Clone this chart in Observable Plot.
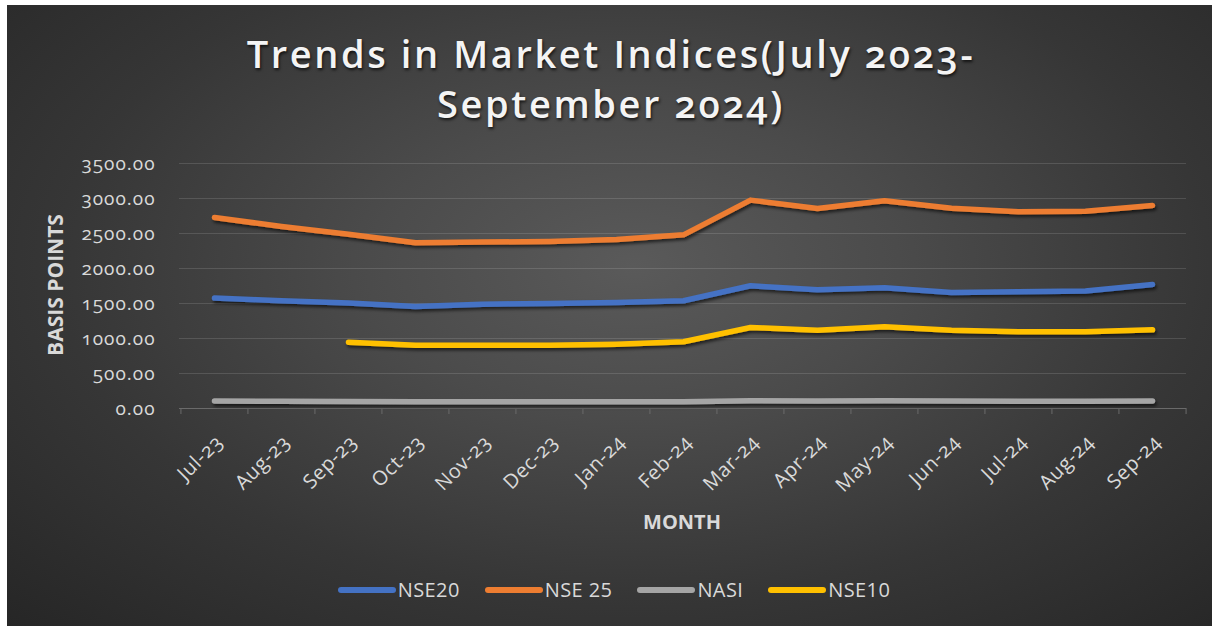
<!DOCTYPE html>
<html>
<head>
<meta charset="utf-8">
<script src="https://cdn.jsdelivr.net/npm/d3@7"></script>
<script src="https://cdn.jsdelivr.net/npm/@observablehq/plot@0.6"></script>
<style>
  html, body { margin: 0; padding: 0; background: #ffffff; }
  #wrap { position: relative; width: 1212px; height: 626px; overflow: hidden; font-family: "Open Sans", sans-serif; }
  #panel { position: absolute; left: 7px; top: 5px; width: 1205px; height: 621px;
    background: radial-gradient(ellipse farthest-corner at 52% 42%, #5a5a5a 0%, #4b4b4b 30%, #363636 65%, #262626 100%); }
  #title { position: absolute; left: 0; width: 1222px; top: 28px; text-align: center; color: #f4f4f4;
    font-size: 38px; font-weight: 600; line-height: 50px; letter-spacing: 2.6px;
    text-shadow: 1px 2px 3px rgba(0,0,0,0.7); font-variant-numeric: oldstyle-nums; }
  #chart { position: absolute; left: 0; top: 140px; }
  .axlabel { position: absolute; color: #d9d9d9; font-weight: 700; font-size: 20px; white-space: nowrap; }
  #ylab { left: 55px; top: 285px; transform: translate(-50%, -50%) rotate(-90deg); font-size: 21px; }
  #xlab { left: 682px; top: 521px; transform: translate(-50%, -50%); }
  #legend { position: absolute; left: 0; width: 1228px; top: 576px; display: flex; justify-content: center; align-items: center; gap: 25px; }
  .item { display: flex; align-items: center; gap: 2px; color: #d9d9d9; font-size: 20px; letter-spacing: 0.4px; }
  .sw { width: 58px; height: 6px; border-radius: 3px; }
</style>
</head>
<body>
<div id="wrap">
  <div id="panel"></div>
  <div id="title">Trends in Market Indices(July 2023-<br>September 2024)</div>
  <div id="chart"></div>
  <div class="axlabel" id="ylab">BASIS POINTS</div>
  <div class="axlabel" id="xlab">MONTH</div>
  <div id="legend"></div>
</div>
<script>
const months = ["Jul-23","Aug-23","Sep-23","Oct-23","Nov-23","Dec-23","Jan-24","Feb-24","Mar-24","Apr-24","May-24","Jun-24","Jul-24","Aug-24","Sep-24"];
const nse20 = [1577,1539,1506,1457,1491,1500,1514,1539,1753,1696,1724,1657,1667,1677,1771];
const nse25 = [2729,2600,2490,2367,2377,2386,2414,2481,2977,2857,2967,2862,2810,2819,2900];
const nasi  = [106,103,101,97,97,97,98,98,110,108,110,108,104,104,107];
const nse10 = [null,null,948,905,905,905,919,953,1157,1119,1167,1119,1095,1095,1124];
const seriesNames = ["NSE20","NSE 25","NASI","NSE10"];
const seriesColors = ["#4472C4","#ED7D31","#A5A5A5","#FFC000"];
const yTicks = [0,500,1000,1500,2000,2500,3000,3500];

const seriesValues = [nse20, nse25, nasi, nse10];
const rows = seriesNames.map((name, s) =>
  months.map((m, i) => ({series: name, month: m, value: seriesValues[s][i]})).filter(d => d.value != null));

const W = 1212, H = 400, mL = 179, mR = 26, mT = 23, mB = 132;
const step = (W - mL - mR) / months.length;
const axisColor = "#6a6a6a";

const chart = Plot.plot({
  width: W, height: H,
  marginLeft: mL, marginRight: mR, marginTop: mT, marginBottom: mB,
  style: {background: "transparent", color: "#d9d9d9", fontFamily: "Open Sans, sans-serif"},
  x: {type: "point", domain: months, padding: 0.5, label: null},
  y: {domain: [0, 3500], label: null},
  marks: [
    Plot.ruleY(yTicks.filter(d => d > 0), {stroke: "#ffffff", strokeOpacity: 0.13, strokeWidth: 1.2}),
    Plot.ruleY([0], {stroke: axisColor, strokeWidth: 1.2}),
    Plot.axisX({tickSize: 6, tickFormat: () => "", label: null, stroke: axisColor, strokeOpacity: 1, dx: -step / 2}),
    Plot.axisX({ticks: [months[months.length - 1]], tickSize: 6, tickFormat: () => "", label: null, stroke: axisColor, strokeOpacity: 1, dx: step / 2}),
    Plot.axisX({tickSize: 0, tickRotate: -45, tickPadding: 30, fontSize: 20, label: null, dx: 5, className: "xlabels"}),
    Plot.axisY({ticks: yTicks, tickSize: 0, tickPadding: 24, fontSize: 19, tickFormat: d => d.toFixed(2), label: null, className: "ylabels"}),
    ...rows.map((data, s) => Plot.line(data, {x: "month", y: "value", stroke: seriesColors[s], strokeWidth: 5.5,
      strokeLinecap: "round", strokeLinejoin: "round", className: "series-line"}))
  ]
});
document.getElementById("chart").appendChild(chart);

// drop shadow for the series lines
const svg = d3.select(chart);
const defs = svg.insert("defs", ":first-child");
const f = defs.append("filter").attr("id", "lshadow").attr("filterUnits", "userSpaceOnUse")
  .attr("x", 0).attr("y", 0).attr("width", W).attr("height", H);
f.append("feDropShadow").attr("dx", 1.5).attr("dy", 2.5).attr("stdDeviation", 1.8).attr("flood-color", "#000").attr("flood-opacity", 0.6);
svg.selectAll(".series-line").attr("filter", "url(#lshadow)");
svg.selectAll("text").style("font-variant-numeric", "oldstyle-nums");
svg.selectAll(".ylabels text").style("letter-spacing", "1px");
svg.selectAll(".xlabels text").style("letter-spacing", "0.6px");

// legend
const legend = d3.select("#legend");
seriesNames.forEach((name, i) => {
  const it = legend.append("div").attr("class", "item");
  it.append("div").attr("class", "sw").style("background", seriesColors[i]);
  it.append("span").text(name);
});
</script>
</body>
</html>
